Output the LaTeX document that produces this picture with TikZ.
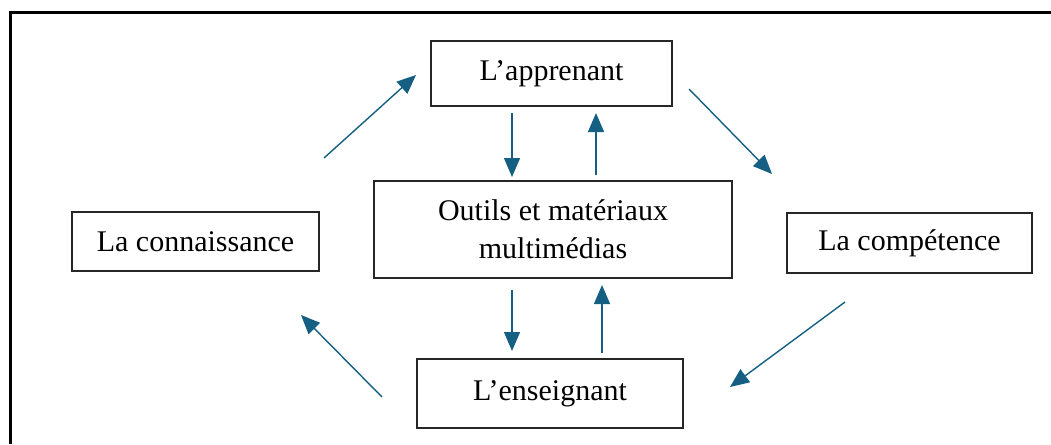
\documentclass[tikz,border=0pt]{standalone}
\usepackage{fontspec}
\setmainfont{Liberation Serif}
\usetikzlibrary{arrows.meta}
\definecolor{arrowblue}{RGB}{21,96,130}
\tikzset{
  box/.style={draw=black!85, line width=1.3pt, inner sep=0pt, align=center,
    font=\fontsize{30}{38}\selectfont},
  link/.style={draw=arrowblue, line width=1.4pt, -{Triangle[length=19pt,width=16pt]}}
}
\begin{document}
\begin{tikzpicture}[x=1pt,y=-1pt]
\useasboundingbox (0,0) rectangle (1051,444);
% outer frame (only left and top edges visible)
\draw[line width=3pt] (10.5,444) -- (10.5,12.5) -- (1051,12.5);
% boxes
\node[box, minimum width=241pt, minimum height=65pt] (app) at (551.5,73.5) {L’apprenant};
\node[box, minimum width=358pt, minimum height=97pt] (mid) at (553,229.5) {Outils et matériaux\\multimédias};
\node[box, minimum width=266pt, minimum height=69pt] (ens) at (550,393.5) {L’enseignant};
\node[box, minimum width=247pt, minimum height=59pt] (con) at (195.5,241.5) {La connaissance};
\node[box, minimum width=245pt, minimum height=60pt] (comp) at (909.5,243) {La compétence};
% arrow end points
\coordinate (a1s) at (512,113); \coordinate (a1e) at (512,177);
\coordinate (a2s) at (596,175); \coordinate (a2e) at (596,113);
\coordinate (a3s) at (512,290); \coordinate (a3e) at (512,351);
\coordinate (a4s) at (602,353); \coordinate (a4e) at (602,285);
\coordinate (d1s) at (324,158); \coordinate (d1e) at (416,75);
\coordinate (d2s) at (689,89);  \coordinate (d2e) at (772,174);
\coordinate (d3s) at (845,302); \coordinate (d3e) at (730,387);
\coordinate (d4s) at (382,397); \coordinate (d4e) at (301,315);
% arrows
\draw[link] (a1s) -- (a1e);
\draw[link] (a2s) -- (a2e);
\draw[link] (a3s) -- (a3e);
\draw[link] (a4s) -- (a4e);
\draw[link] (d1s) -- (d1e);
\draw[link] (d2s) -- (d2e);
\draw[link] (d3s) -- (d3e);
\draw[link] (d4s) -- (d4e);
\end{tikzpicture}
\end{document}
